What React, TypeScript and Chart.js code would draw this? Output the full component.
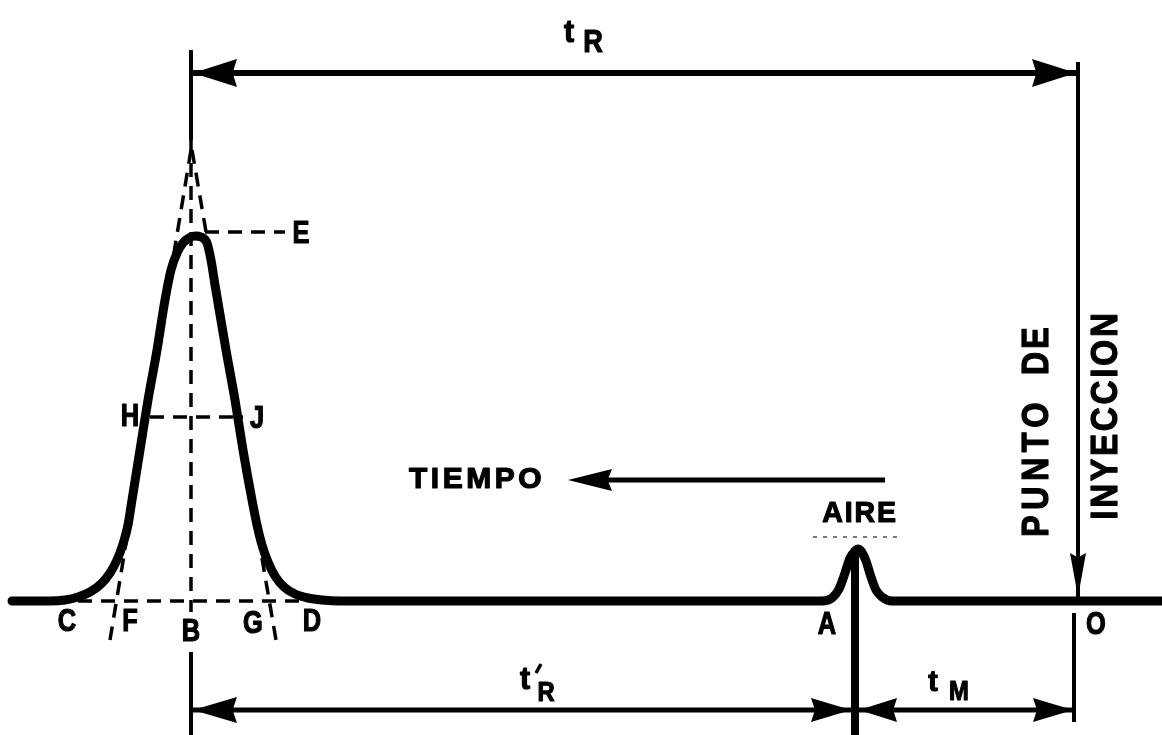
import { useEffect, useRef } from "react";
import { Chart, registerables } from "chart.js";

Chart.register(...registerables);

// Recorder trace: position along the chart paper (x) and detector signal above the baseline (y)
const traceX = [12, 50, 65, 78, 90, 101, 110, 117, 123, 128, 132, 140, 148, 157, 165, 171, 177, 183, 189, 195, 201, 207, 211, 215, 226, 235, 243, 252, 257, 262, 268, 275, 284, 295, 308, 322, 340, 822, 832, 839, 845, 850, 855, 858, 861, 866, 871, 876, 882, 892, 1162];
const traceY = [0, 0, 1, 4, 9, 17, 28, 41, 57, 76, 101, 151, 201, 251, 301, 331, 348, 358, 363, 365, 364, 358, 341, 316, 251, 201, 151, 101, 76, 56, 39, 25, 14, 7, 3, 1, 0, 0, 3, 12, 28, 43, 50, 52, 50, 40, 24, 11, 4, 0, 0];

// Key positions along the paper
const PEAK_X = 191;       // B, retention of the solute
const AIR_X = 855;        // A, unretained (air) peak
const INJECT_X = 1077;    // O, injection point
const APEX_Y = 451;       // crossing of the inflection tangents
const PEAK_H = 369;       // E, peak maximum
const HALF_H = 184;       // H-J, half height
const TOP_DIM_Y = 528;    // tR dimension line
const BOT_DIM_Y = -109;   // t'R and tM dimension line
const TIME_Y = 121;       // time direction arrow

// Construction lines (dashed)
const tangentLeft = [{ x: PEAK_X, y: APEX_Y }, { x: 110, y: -39 }];
const tangentRight = [{ x: PEAK_X + 1, y: APEX_Y }, { x: 276, y: -39 }];
const centreLine = [{ x: PEAK_X, y: 461 }, { x: PEAK_X, y: -11 }];
const maxLine = [{ x: 205, y: PEAK_H }, { x: 285, y: PEAK_H }];
const halfLine = [{ x: 150, y: HALF_H }, { x: 243, y: HALF_H }];
const baseLine = [{ x: 78, y: 0 }, { x: 305, y: 0 }];

// Point labels: text, x, y
const pointLabels: [string, number, number][] = [
  ["C", 67, -21],
  ["F", 130, -21],
  ["B", 191, -31],
  ["G", 253, -23],
  ["D", 312, -21],
  ["A", 827, -24],
  ["O", 1096, -24],
  ["E", 301, 367],
  ["H", 130, 184],
  ["J", 257, 182],
];

const FONT = '"Liberation Sans", "DejaVu Sans", sans-serif';

function drawText(
  ctx: CanvasRenderingContext2D,
  text: string,
  x: number,
  y: number,
  size: number,
  opts: { sx?: number; spacing?: number; rot?: number; align?: CanvasTextAlign } = {}
) {
  ctx.save();
  ctx.translate(x, y);
  if (opts.rot) ctx.rotate(opts.rot);
  ctx.scale(opts.sx ?? 0.85, 1);
  ctx.font = `bold ${size}px ${FONT}`;
  (ctx as any).letterSpacing = `${opts.spacing ?? 0}px`;
  ctx.textAlign = opts.align ?? "center";
  ctx.textBaseline = "middle";
  ctx.fillStyle = "#000";
  ctx.strokeStyle = "#000";
  ctx.lineWidth = 1.2;
  ctx.lineJoin = "round";
  ctx.fillText(text, 0, 0);
  ctx.strokeText(text, 0, 0);
  ctx.restore();
}

function arrowHead(
  ctx: CanvasRenderingContext2D,
  tx: number,
  ty: number,
  dir: "left" | "right" | "down",
  len: number,
  half: number
) {
  ctx.beginPath();
  if (dir === "left") {
    ctx.moveTo(tx, ty);
    ctx.lineTo(tx + len, ty - half);
    ctx.lineTo(tx + len * 0.9, ty);
    ctx.lineTo(tx + len, ty + half);
  } else if (dir === "right") {
    ctx.moveTo(tx, ty);
    ctx.lineTo(tx - len, ty - half);
    ctx.lineTo(tx - len * 0.9, ty);
    ctx.lineTo(tx - len, ty + half);
  } else {
    ctx.moveTo(tx, ty);
    ctx.lineTo(tx - half, ty - len);
    ctx.lineTo(tx, ty - len * 0.9);
    ctx.lineTo(tx + half, ty - len);
  }
  ctx.closePath();
  ctx.fillStyle = "#000";
  ctx.fill();
}

const diagramPlugin = {
  id: "chromatogramNotes",
  afterDatasetsDraw(chart: any) {
    const ctx: CanvasRenderingContext2D = chart.ctx;
    const xs = chart.scales.x;
    const ys = chart.scales.y;
    const X = (v: number) => xs.getPixelForValue(v);
    const Y = (v: number) => ys.getPixelForValue(v);

    const seg = (x1: number, y1: number, x2: number, y2: number, w: number) => {
      ctx.save();
      ctx.strokeStyle = "#000";
      ctx.lineWidth = w;
      ctx.lineCap = "butt";
      ctx.beginPath();
      ctx.moveTo(X(x1), Y(y1));
      ctx.lineTo(X(x2), Y(y2));
      ctx.stroke();
      ctx.restore();
    };

    // extension lines
    seg(PEAK_X, 551, PEAK_X, 461, 4);
    seg(PEAK_X, -51, PEAK_X, -134, 4);
    seg(INJECT_X + 1, 539, INJECT_X + 1, 1, 4);
    seg(INJECT_X - 3, -12, INJECT_X - 3, -121, 4);
    seg(AIR_X, 53, AIR_X, -134, 8);

    // tR dimension
    seg(PEAK_X, TOP_DIM_Y, INJECT_X, TOP_DIM_Y, 6);
    arrowHead(ctx, X(PEAK_X + 2), Y(TOP_DIM_Y), "left", 44, 14);
    arrowHead(ctx, X(INJECT_X - 1), Y(TOP_DIM_Y), "right", 44, 14);

    // t'R and tM dimensions
    seg(PEAK_X, BOT_DIM_Y, INJECT_X - 3, BOT_DIM_Y, 5);
    arrowHead(ctx, X(PEAK_X + 2), Y(BOT_DIM_Y), "left", 44, 13);
    arrowHead(ctx, X(AIR_X - 4), Y(BOT_DIM_Y), "right", 40, 12);
    arrowHead(ctx, X(AIR_X + 4), Y(BOT_DIM_Y), "left", 38, 12);
    arrowHead(ctx, X(INJECT_X - 4), Y(BOT_DIM_Y), "right", 40, 12);

    // injection marker
    arrowHead(ctx, X(INJECT_X + 1), Y(4), "down", 44, 8);

    // time direction
    seg(585, TIME_Y, 885, TIME_Y, 5);
    arrowHead(ctx, X(568), Y(TIME_Y), "left", 44, 11);

    // dotted rule under AIRE
    ctx.save();
    ctx.strokeStyle = "#777";
    ctx.lineWidth = 2;
    ctx.setLineDash([4, 6]);
    ctx.beginPath();
    ctx.moveTo(X(813), Y(64));
    ctx.lineTo(X(903), Y(64));
    ctx.stroke();
    ctx.restore();

    // point labels
    for (const [t, x, y] of pointLabels) {
      drawText(ctx, t, X(x), Y(y), 31, { sx: 0.82 });
    }

    // time symbols
    drawText(ctx, "t", X(569), Y(568), 32, { sx: 0.95 });
    drawText(ctx, "R", X(593), Y(558), 32, { sx: 0.85 });
    drawText(ctx, "t", X(525), Y(-79), 32, { sx: 0.95 });
    seg(536, -72, 541, -63, 3.5);
    drawText(ctx, "R", X(546), Y(-92), 28, { sx: 0.85 });
    drawText(ctx, "t", X(933), Y(-82), 30, { sx: 0.95 });
    drawText(ctx, "M", X(959), Y(-91), 28, { sx: 0.85 });

    // words
    drawText(ctx, "TIEMPO", X(409), Y(TIME_Y), 30, { sx: 1, spacing: 3.5, align: "left" });
    drawText(ctx, "AIRE", X(860), Y(87), 30, { sx: 0.95, spacing: 2 });
    drawText(ctx, "PUNTO", X(1038), Y(134), 36, { sx: 0.9, spacing: 6, rot: -Math.PI / 2 });
    drawText(ctx, "DE", X(1038), Y(251), 36, { sx: 0.9, spacing: 3, rot: -Math.PI / 2 });
    drawText(ctx, "INYECCION", X(1107), Y(186), 37, { sx: 0.9, spacing: 3, rot: -Math.PI / 2 });
  },
};

export default function App() {
  const canvasRef = useRef<HTMLCanvasElement | null>(null);

  useEffect(() => {
    if (!canvasRef.current) return;
    const dashed = (data: { x: number; y: number }[]) => ({
      data,
      borderColor: "#000",
      borderWidth: 3.5,
      borderDash: [14, 9],
      pointRadius: 0,
      tension: 0,
    });
    const chart = new Chart(canvasRef.current, {
      type: "line",
      data: {
        datasets: [
          dashed(tangentLeft),
          dashed(tangentRight),
          dashed(centreLine),
          dashed(maxLine),
          dashed(halfLine),
          dashed(baseLine),
          {
            data: traceX.map((x, i) => ({ x, y: traceY[i] })),
            borderColor: "#000",
            borderWidth: 9,
            pointRadius: 0,
            cubicInterpolationMode: "monotone",
            borderCapStyle: "round",
            borderJoinStyle: "round",
          },
        ],
      },
      options: {
        responsive: false,
        animation: false,
        events: [],
        layout: { padding: 0 },
        plugins: { legend: { display: false }, tooltip: { enabled: false } },
        scales: {
          x: { type: "linear", min: 0, max: 1162, display: false },
          y: { type: "linear", min: -134, max: 601, display: false },
        },
      },
      plugins: [diagramPlugin],
    } as any);
    return () => chart.destroy();
  }, []);

  return (
    <div style={{ position: "absolute", left: 0, top: 0, width: 1162, height: 735, background: "#fff" }}>
      <canvas ref={canvasRef} width={1162} height={735} style={{ display: "block" }} />
    </div>
  );
}
